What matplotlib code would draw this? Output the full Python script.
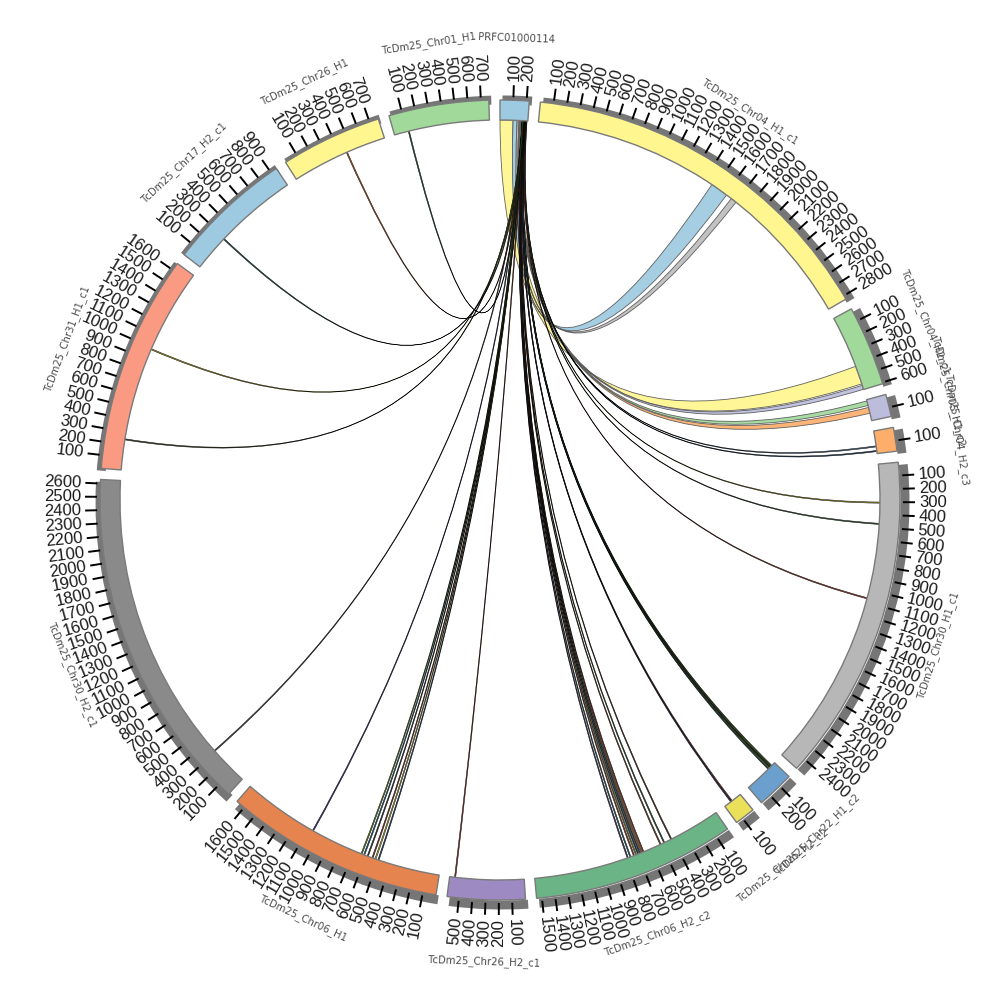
import numpy as np
import matplotlib
matplotlib.use('Agg')
import matplotlib.pyplot as plt
from matplotlib.patches import Wedge, PathPatch
from matplotlib.path import Path

# ---------------- data ----------------
seg_names = ["PRFC01000114", "TcDm25_Chr04_H1_c1", "TcDm25_Chr04_H2_c1", "TcDm25_Chr05_H1_c2",
             "TcDm25_Chr04_H2_c3", "TcDm25_Chr30_H1_c1", "TcDm25_Chr22_H1_c2", "TcDm25_Chr25_H2_c2",
             "TcDm25_Chr06_H2_c2", "TcDm25_Chr26_H2_c1", "TcDm25_Chr06_H1", "TcDm25_Chr30_H2_c1",
             "TcDm25_Chr31_H1_c1", "TcDm25_Chr17_H2_c1", "TcDm25_Chr26_H1", "TcDm25_Chr01_H1"]
seg_lengths = [220, 2830, 610, 170, 180, 2490, 285, 155, 1540, 590, 1670, 2630, 1660, 950, 770, 760]
seg_colors = ["#9ecae1", "#fff68f", "#a1d99b", "#bcbddc", "#fdae6b", "#b7b7b7", "#6a9fce", "#ebe05a",
              "#6ab486", "#9e8ac3", "#e6844f", "#8a8a8a", "#fb9a82", "#9ecae1", "#fff68f", "#a1d99b"]

# links: all start on PRFC01000114 (segment 0)
link_src_start = [0, 103, 135, 150, 158, 166,
                  205, 203, 200, 198, 196,
                  193, 192, 191, 190, 189, 188,
                  187, 186,
                  185, 184, 183, 182, 181, 180, 179, 178, 177, 176, 175,
                  182, 181, 180, 179, 178, 177, 176, 175,
                  176, 175, 178, 177, 176, 175]
link_src_end = [103, 135, 150, 158, 166, 174,
                214, 212, 209, 207, 205,
                202, 201, 200, 199, 198, 197,
                196, 195,
                194, 193, 192, 191, 190, 189, 188, 187, 186, 185, 184,
                191, 190, 189, 188, 187, 186, 185, 184,
                185, 184, 187, 186, 185, 184]
link_tgt = [2, 1, 1, 2, 3, 3,
            4, 4, 5, 5, 5,
            6, 6, 6, 6, 6, 6,
            7, 7,
            8, 8, 8, 8, 8, 8, 8, 8, 8, 8, 8,
            9, 10, 10, 10, 10, 10, 10, 10,
            11, 12, 12, 13, 14, 15]
link_tgt_start = [563, 1471, 1660, 575, 10, 63,
                  118, 155, 300, 468, 1064,
                  30, 38, 45, 52, 58, 64,
                  80, 88,
                  408, 470, 502, 650, 665, 680, 695, 712, 730, 760, 782,
                  542, 490, 515, 540, 580, 610, 632, 1057,
                  309, 239, 982, 286, 448, 112]
link_tgt_end = [416, 1613, 1707, 608, 47, 110,
                127, 164, 309, 477, 1073,
                39, 47, 54, 61, 67, 73,
                89, 97,
                417, 479, 511, 659, 674, 689, 704, 721, 739, 769, 791,
                551, 499, 524, 549, 589, 619, 641, 1066,
                318, 248, 991, 295, 457, 121]
link_colors = ["#fff68f", "#9ecae1", "#bdbdbd", "#bcbddc", "#a1d99b", "#fdae6b",
               "#5a7090", "#2f4a6a", "#a8a030", "#3f5f3f", "#9b4030",
               "#2c6e3f", "#c9c030", "#1f3f6b", "#4d7d3a", "#e8e060", "#305f70",
               "#c0602a", "#3a3a7a",
               "#5a3a2a", "#2e5e3e", "#7a4a2a", "#8c3b2a", "#c06a30", "#1f4f3f", "#2a3a6a",
               "#8a8a2a", "#a04030", "#2a6a6a", "#4a3a6a",
               "#9b4030",
               "#2a4a7a", "#c8c030", "#8c3b2a", "#3a3a3a", "#2a6a8a", "#6b8e23", "#4a3a8a",
               "#555555", "#4a4a33", "#b0a830", "#305a5a", "#c0602a", "#2e5e3e"]

# ---------------- layout ----------------
DEG_PER_UNIT = 0.0191
n = len(seg_lengths)
gap = (360 - DEG_PER_UNIT * sum(seg_lengths)) / n
seg_start = []
t = 0.0
for L in seg_lengths:
    seg_start.append(t)
    t += L * DEG_PER_UNIT + gap


def ang(seg, u):
    return seg_start[seg] + u * DEG_PER_UNIT


def xy(theta, r):
    a = np.radians(theta)
    return r * np.sin(a), r * np.cos(a)


fig = plt.figure(figsize=(10, 10), dpi=100)
ax = fig.add_axes([0, 0, 1, 1])
ax.set_xlim(-500, 500)
ax.set_ylim(-500, 500)
ax.set_aspect('equal')
ax.axis('off')

R_IN, R_OUT = 380, 400
TICK_FONT = ['Liberation Sans', 'DejaVu Sans']

# segments
for i, L in enumerate(seg_lengths):
    t1 = ang(i, 0)
    t2 = ang(i, L)
    shadow = Wedge((2.5, -2.5), 407, 90 - t2, 90 - t1, width=9,
                   facecolor="#767676", edgecolor="none", zorder=1)
    ax.add_patch(shadow)
    band = Wedge((0, 0), R_OUT, 90 - t2, 90 - t1, width=R_OUT - R_IN,
                 facecolor=seg_colors[i], edgecolor="#7a7a7a", linewidth=1.0, zorder=2)
    ax.add_patch(band)
    # ticks
    for v in range(100, L + 1, 100):
        th = ang(i, v)
        x1, y1 = xy(th, 403)
        x2, y2 = xy(th, 415)
        ax.plot([x1, x2], [y1, y2], color="black", lw=1.4, zorder=3, solid_capstyle='butt')
        tx, ty = xy(th, 419)
        thm = th % 360
        if thm < 180:
            rot, ha = 90 - thm, 'left'
        else:
            rot, ha = 270 - thm, 'right'
        ax.text(tx, ty, str(v), rotation=rot, ha=ha, va='center', rotation_mode='anchor',
                fontsize=12, family=TICK_FONT, color="#1a1a1a", zorder=4)
    # label
    mid = (t1 + t2) / 2
    lx, ly = xy(mid, 462)
    if mid < 90 or mid > 270:
        lrot = -mid
    else:
        lrot = 180 - mid
    ax.text(lx, ly, seg_names[i], rotation=lrot, ha='center', va='center',
            rotation_mode='anchor', fontsize=7.3, color="#4a4a4a", zorder=4)


def arc_pts(t1, t2, r, m=24):
    ts = np.linspace(t1, t2, m)
    a = np.radians(ts)
    return np.column_stack([r * np.sin(a), r * np.cos(a)])


def ribbon_path(a1, a2, b1, b2, r=R_IN):
    A = arc_pts(a1, a2, r)
    B = arc_pts(b1, b2, r)
    verts = list(A)
    codes = [Path.MOVETO] + [Path.LINETO] * (len(A) - 1)
    verts += [(0, 0), B[0]]
    codes += [Path.CURVE3, Path.CURVE3]
    verts += list(B[1:])
    codes += [Path.LINETO] * (len(B) - 1)
    verts += [(0, 0), A[0]]
    codes += [Path.CURVE3, Path.CURVE3]
    verts.append(A[0])
    codes.append(Path.CLOSEPOLY)
    return Path(verts, codes)


for k in range(len(link_src_start)):
    a1 = ang(0, link_src_start[k])
    a2 = ang(0, link_src_end[k])
    b1 = ang(link_tgt[k], link_tgt_start[k])
    b2 = ang(link_tgt[k], link_tgt_end[k])
    big = k < 6
    p = ribbon_path(a1, a2, b1, b2)
    patch = PathPatch(p, facecolor=link_colors[k],
                      edgecolor="#555555" if big else "black",
                      linewidth=0.6 if big else 0.35,
                      alpha=0.92 if big else 1.0, zorder=1.5 if big else 1.6)
    ax.add_patch(patch)

fig.savefig("out.png", dpi=100, facecolor="white")
